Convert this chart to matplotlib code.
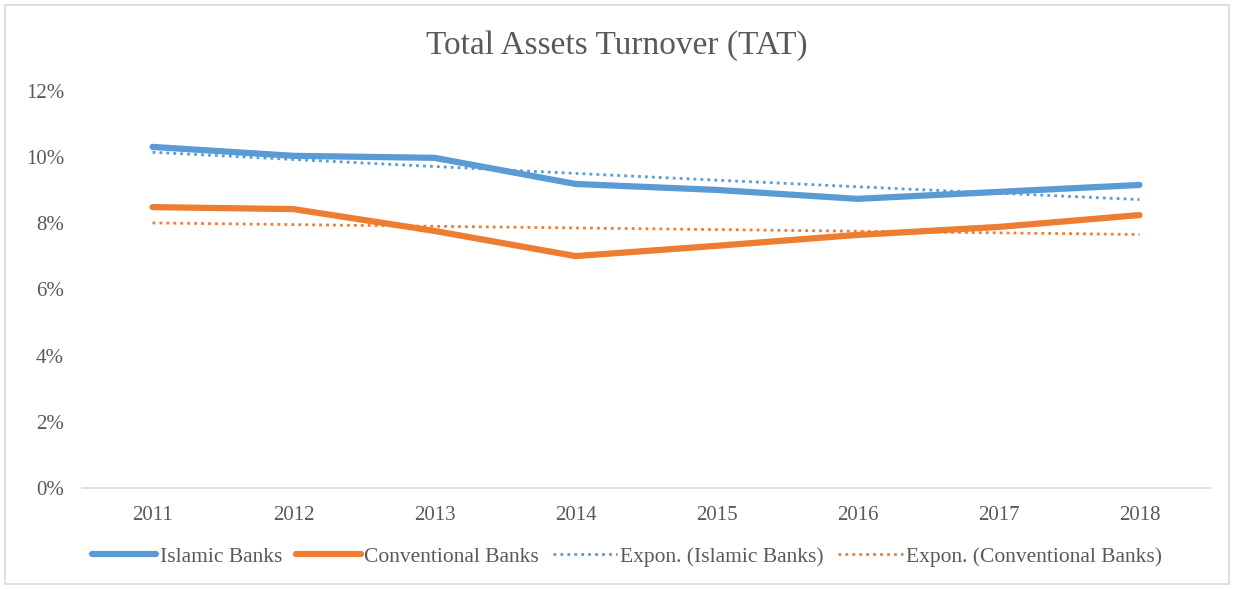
import numpy as np
import matplotlib.pyplot as plt
from matplotlib.patches import Rectangle

years = ['2011', '2012', '2013', '2014', '2015', '2016', '2017', '2018']
islamic = [10.31, 10.04, 9.98, 9.19, 9.01, 8.74, 8.95, 9.16]
conventional = [8.49, 8.43, 7.77, 7.01, 7.32, 7.65, 7.89, 8.25]

blue = '#5B9BD5'
orange = '#ED7D31'


def expon_trend(y):
    # Excel-style exponential trendline: fit ln(y) linearly
    x = np.arange(1, len(y) + 1)
    b, a = np.polyfit(x, np.log(y), 1)
    return np.exp(a + b * x)


plt.rcParams['font.family'] = ['Liberation Serif', 'DejaVu Serif']

fig = plt.figure(figsize=(12.34, 5.89), dpi=100)
ax = fig.add_axes([0.0665, 0.1715, 0.914, 0.674])

x = np.arange(len(years))
ax.plot(x, islamic, color=blue, lw=4.5, solid_capstyle='round', label='Islamic Banks')
ax.plot(x, conventional, color=orange, lw=4.5, solid_capstyle='round', label='Conventional Banks')
ax.plot(x, expon_trend(islamic), color=blue, lw=2, ls=(0, (1, 1.5)), label='Expon. (Islamic Banks)')
ax.plot(x, expon_trend(conventional), color=orange, lw=2, ls=(0, (1, 1.5)), label='Expon. (Conventional Banks)')

ax.set_xlim(-0.5, len(years) - 0.5)
ax.set_ylim(0, 12)
ax.set_xticks(x)
ax.set_xticklabels(years)
ax.set_yticks(np.arange(0, 13, 2))
ax.set_yticklabels([f'{v}%' for v in range(0, 13, 2)])
ax.tick_params(axis='both', length=0, labelsize=15, colors='#595959')
ax.tick_params(axis='x', pad=13)
ax.tick_params(axis='y', pad=13)
for s in ['top', 'right', 'left']:
    ax.spines[s].set_visible(False)
ax.spines['bottom'].set_color('#D9D9D9')
ax.spines['bottom'].set_linewidth(1.2)

fig.text(0.5, 0.923, 'Total Assets Turnover (TAT)', ha='center', va='center',
         fontsize=24, color='#595959')

leg = fig.legend(loc='center', bbox_to_anchor=(0.508, 0.055), ncol=4, frameon=False,
                 fontsize=15.5, handlelength=3, columnspacing=0.65, handletextpad=0.15)
for t in leg.get_texts():
    t.set_color('#595959')

fig.patches.append(Rectangle((0.004, 0.008), 0.992, 0.984, transform=fig.transFigure,
                             fill=False, edgecolor='#D9D9D9', lw=1.2))

fig.savefig('out.png', dpi=100)
